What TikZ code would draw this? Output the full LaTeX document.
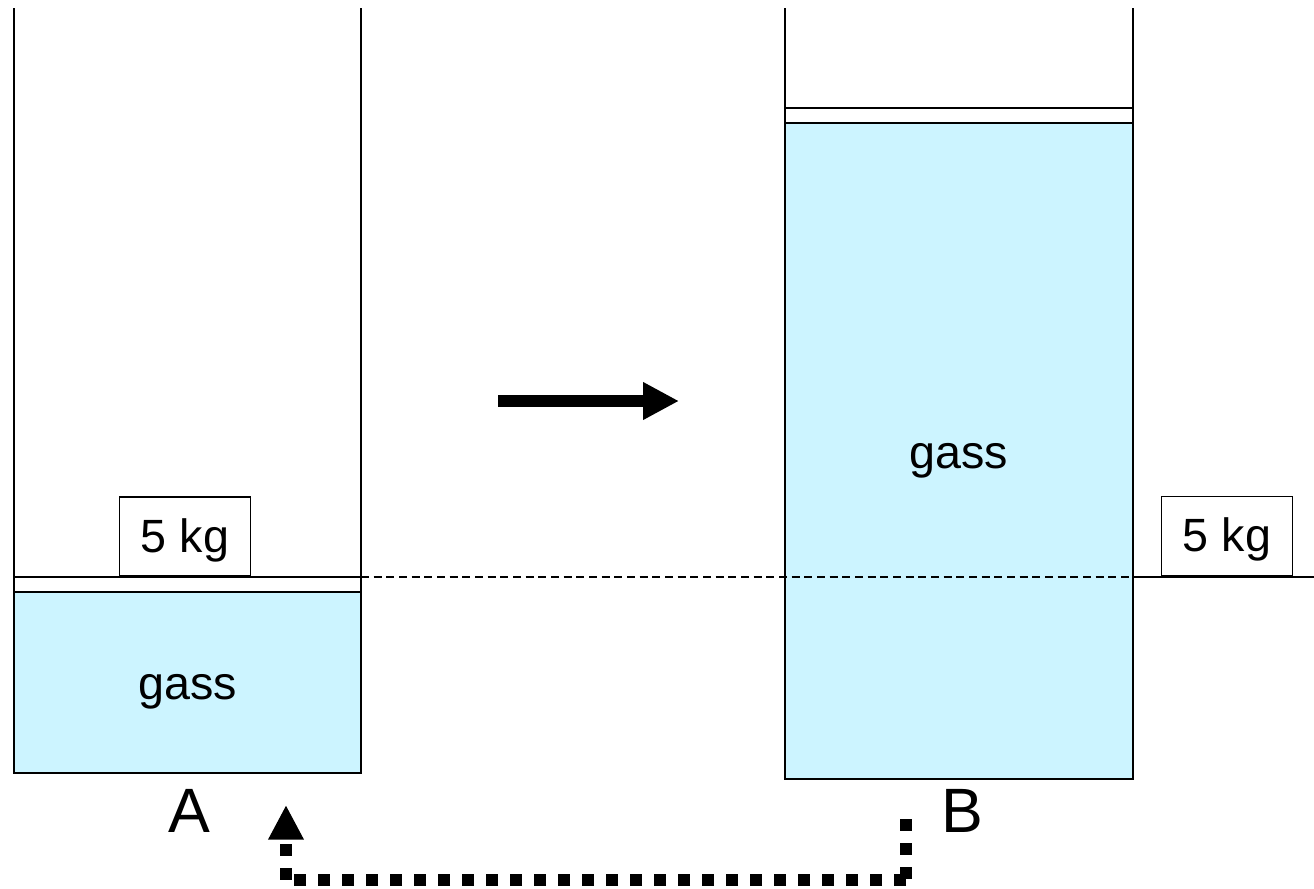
\documentclass[tikz,border=0pt]{standalone}
\usepackage{fontspec}
\setmainfont{Liberation Sans}
\usetikzlibrary{arrows.meta}
\definecolor{G4}{RGB}{204,244,255}
\tikzset{
  wall/.style={line width=1.5pt},
  piston/.style={line width=2pt},
  gassbox/.style={draw, fill=G4, line width=1.2pt, inner sep=0pt, outer sep=0pt, text height=33.5pt, text depth=7.4pt, font=\fontsize{35}{35}\selectfont},
  weight/.style={draw, fill=white, line width=1.2pt, inner sep=0pt, outer sep=0pt, minimum width=98pt, minimum height=59.5pt, text height=31pt, text depth=7.4pt, font=\fontsize{35}{35}\selectfont},
  letter/.style={font=\fontsize{47}{47}\selectfont},
  level/.style={line width=1pt, dash pattern=on 6pt off 3.5pt},
  dotted link/.style={line width=9pt, dash pattern=on 9pt off 9pt},
}
\begin{document}
\begin{tikzpicture}[x=0.75pt, y=-0.75pt]
      \useasboundingbox (0, 0) rectangle (1314, 889);
      % cylinder A
      \node[gassbox, minimum width=260.25pt, minimum height=135.75pt] (gassA) at (187.5, 682.5) {gass};
      \coordinate (topAl) at (14, 8);
      \coordinate (topAr) at (361, 8);
      \coordinate (pisAl) at (14, 577);
      \coordinate (pisAr) at (361, 577);
      \draw[wall] (topAl)--(gassA.south west);
      \draw[wall] (topAr)--(gassA.south east);
      \draw[piston] (pisAl)--(pisAr);
      \node[weight] (weightA) at (185, 536.5) {5 kg};
      \node[letter] (labelA) at (189, 811) {A};
      % cylinder B
      \node[gassbox, minimum width=261pt, minimum height=492pt] (gassB) at (959, 451) {gass};
      \coordinate (topBl) at (785, 8);
      \coordinate (topBr) at (1133, 8);
      \coordinate (pisBl) at (785, 108);
      \coordinate (pisBr) at (1133, 108);
      \draw[wall] (topBl)--(gassB.south west);
      \draw[wall] (topBr)--(gassB.south east);
      \draw[wall] (pisBl)--(pisBr);
      \coordinate (shelfL) at (1133, 577);
      \coordinate (shelfR) at (1314, 577);
      \draw[piston] (shelfL)--(shelfR);
      \node[weight] (weightB) at (1227, 536) {5 kg};
      \node[letter] (labelB) at (962, 811) {B};
      % level and arrows
      \draw[level] (pisAr)--(shelfL);
      \coordinate (goL) at (498, 401);
      \coordinate (goR) at (679, 401);
      \draw[line width=8.5pt, -{Triangle[length=27pt, width=26.5pt]}] (goL)--(goR);
      \coordinate (backS) at (906, 819);
      \coordinate (backC) at (906, 879.5);
      \coordinate (backD) at (286, 879.5);
      \coordinate (backT) at (286, 805);
      \draw[dotted link] (backS)--(backC);
      \draw[dotted link] (backC)--(backD);
      \draw[dotted link, -{Triangle[length=26pt, width=25pt]}] (backD)--(backT);
    \end{tikzpicture}
\end{document}
